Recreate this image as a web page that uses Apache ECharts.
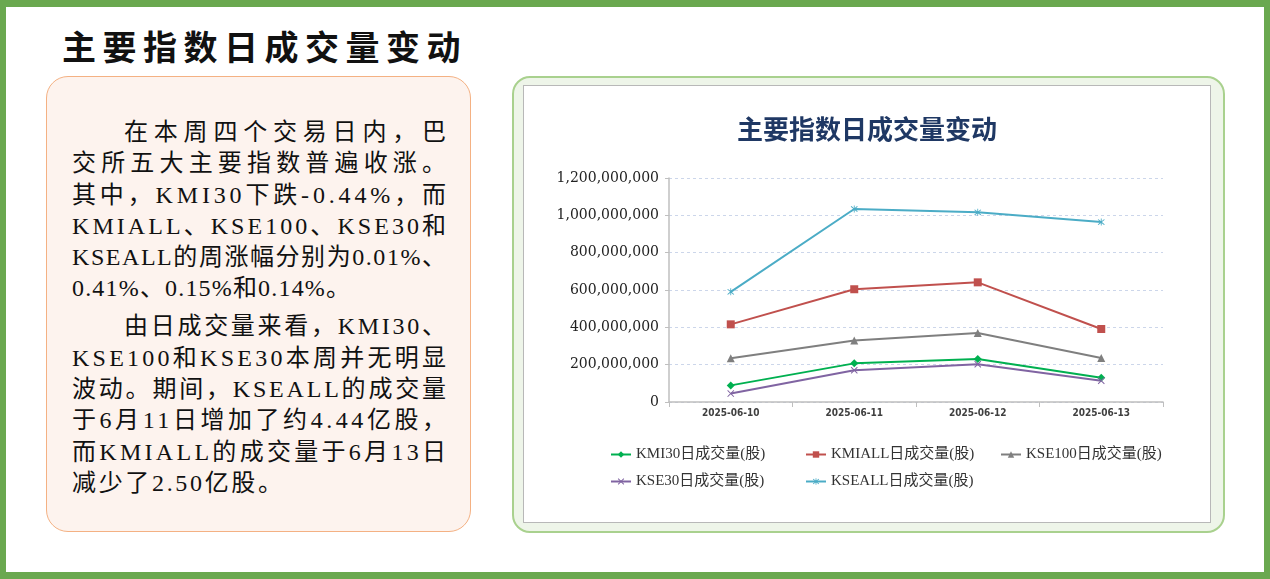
<!DOCTYPE html>
<html>
<head>
<meta charset="utf-8">
<script src="https://cdn.jsdelivr.net/npm/echarts@6/dist/echarts.min.js"></script>
<style>
    html, body {
        margin: 0;
        padding: 0;
        background: #fff;
    }
    #page {
        position: relative;
        width: 1270px;
        height: 579px;
        overflow: hidden;
        background: #fff;
    }
    #frame {
        position: absolute;
        left: 0;
        top: 0;
        width: 1270px;
        height: 579px;
        box-sizing: border-box;
        border: 6px solid #6aa84f;
        border-top-width: 7px;
        border-bottom-width: 7px;
    }
    #pageTitle {
        position: absolute;
        left: 62px;
        top: 27px;
        font-family: "Noto Sans CJK SC", sans-serif;
        font-weight: 700;
        font-size: 34px;
        line-height: 38px;
        letter-spacing: 6.5px;
        color: #111;
        white-space: nowrap;
    }
    #textBox {
        position: absolute;
        left: 46px;
        top: 76px;
        width: 425px;
        height: 456px;
        box-sizing: border-box;
        border: 1.5px solid #f4b183;
        border-radius: 22px;
        background: #fdf3ee;
    }
    #textLines {
        position: absolute;
        left: 72px;
        top: 117px;
        width: 380px;
        font-family: "Liberation Serif", "Noto Sans CJK SC", serif;
        font-size: 24px;
        color: #111;
    }
    .line {
        height: 31.3px;
        line-height: 31.3px;
        white-space: nowrap;
    }
    .gap {
        height: 6.7px;
    }
    #chartBox {
        position: absolute;
        left: 512px;
        top: 76px;
        width: 713px;
        height: 457px;
        box-sizing: border-box;
        border: 2px solid #a9d18e;
        border-radius: 18px;
        background: #eef5e9;
    }
    #volumeChart {
        position: absolute;
        left: 523px;
        top: 85px;
        width: 688px;
        height: 438px;
        box-sizing: border-box;
        border: 1.5px solid #b8b8b8;
        background: #fff;
    }
</style>
</head>
<body>
<div id="page">
    <div id="frame"></div>
    <div id="pageTitle">主要指数日成交量变动</div>
    <div id="textBox"></div>
    <div id="textLines"></div>
    <div id="chartBox"></div>
    <div id="volumeChart"></div>
</div>
<script>
// 日期
var dates = ['2025-06-10', '2025-06-11', '2025-06-12', '2025-06-13'];
// 各指数日成交量(股)
var kmi30Volume = [89000000, 207000000, 230000000, 130000000];
var kmiallVolume = [416000000, 604000000, 641000000, 391000000];
var kse100Volume = [234000000, 330000000, 370000000, 236000000];
var kse30Volume = [45000000, 170000000, 202000000, 114000000];
var kseallVolume = [590000000, 1034000000, 1016000000, 964000000];
var seriesNames = ['KMI30日成交量(股)', 'KMIALL日成交量(股)', 'KSE100日成交量(股)', 'KSE30日成交量(股)', 'KSEALL日成交量(股)'];

// 左侧说明文字, 每行一条
var para1 = ['在本周四个交易日内，巴', '交所五大主要指数普遍收涨。', '其中，KMI30下跌-0.44%，而', 'KMIALL、KSE100、KSE30和', 'KSEALL的周涨幅分别为0.01%、', '0.41%、0.15%和0.14%。'];
var para2 = ['由日成交量来看，KMI30、', 'KSE100和KSE30本周并无明显', '波动。期间，KSEALL的成交量', '于6月11日增加了约4.44亿股，', '而KMIALL的成交量于6月13日', '减少了2.50亿股。'];

$ = function (id) {
    return document.getElementById(id);
};

function addLines(box, lines, lastWidth) {
    lines.forEach(function (t, i) {
        var div = document.createElement('div');
        div.className = 'line';
        var span = document.createElement('span');
        span.textContent = t;
        div.appendChild(span);
        box.appendChild(div);
        var indent = i === 0 ? 52 : 0;
        span.style.marginLeft = indent + 'px';
        var target = i === lines.length - 1 ? lastWidth : 374 - indent;
        var n = Array.from(t).length;
        var w = span.getBoundingClientRect().width;
        span.style.letterSpacing = ((target - w) / (n - 1)) + 'px';
    });
}

var textLines = $('textLines');
addLines(textLines, para1, 278);
var gap = document.createElement('div');
gap.className = 'gap';
textLines.appendChild(gap);
addLines(textLines, para2, 210);

// 标记形状
var crossPath = 'path://M0,1L1,0L5,4L9,0L10,1L6,5L10,9L9,10L5,6L1,10L0,9L4,5Z';
var starPath = 'path://M0,1L1,0L5,4L9,0L10,1L6,5L10,9L9,10L5,6L1,10L0,9L4,5Z M4.4,-1L5.6,-1L5.6,11L4.4,11Z';

function makeSeries(name, data, color, symbol, size) {
    return {
        name: name,
        type: 'line',
        data: data,
        symbol: symbol,
        symbolSize: size,
        showAllSymbol: true,
        lineStyle: {
            color: color,
            width: 2
        },
        itemStyle: {
            color: color
        }
    };
}

// 图例分三列
function makeLegend(left, names) {
    return {
        orient: 'vertical',
        left: left,
        top: 356,
        itemWidth: 20,
        itemHeight: 8,
        itemGap: 12,
        textStyle: {
            fontFamily: "'Liberation Serif', 'Noto Sans CJK SC'",
            fontSize: 15,
            color: '#333'
        },
        data: names
    };
}

var myChart = echarts.init($('volumeChart'));
var option = {
    animation: false,
    title: {
        text: '主要指数日成交量变动',
        left: 'center',
        top: 25,
        textStyle: {
            fontFamily: 'Noto Sans CJK SC',
            fontSize: 26,
            fontWeight: 'bold',
            color: '#1f3864'
        }
    },
    legend: [
        makeLegend(81, [seriesNames[0], seriesNames[3]]),
        makeLegend(276, [seriesNames[1], seriesNames[4]]),
        makeLegend(471, [seriesNames[2]])
    ],
    grid: {
        left: 145,
        top: 92,
        width: 494,
        height: 224
    },
    xAxis: {
        type: 'category',
        data: dates,
        boundaryGap: true,
        axisLine: {
            lineStyle: {
                color: '#bfbfbf',
                width: 1.5
            }
        },
        axisTick: {
            show: true,
            length: 5,
            lineStyle: {
                color: '#bfbfbf'
            }
        },
        axisLabel: {
            margin: 6,
            fontFamily: 'DejaVu Sans Condensed',
            fontSize: 10,
            fontWeight: 'bold',
            color: '#404040'
        }
    },
    yAxis: {
        type: 'value',
        min: 0,
        max: 1200000000,
        interval: 200000000,
        axisLine: {
            show: true,
            lineStyle: {
                color: '#bfbfbf',
                width: 1.5
            }
        },
        axisTick: {
            show: true,
            length: 4,
            lineStyle: {
                color: '#bfbfbf'
            }
        },
        axisLabel: {
            margin: 10,
            fontFamily: 'DejaVu Serif',
            fontSize: 14,
            color: '#222',
            formatter: function (v) {
                return v.toLocaleString('en-US');
            }
        },
        splitLine: {
            show: true,
            lineStyle: {
                color: '#ccd6ea',
                type: [3, 3],
                width: 1
            }
        }
    },
    series: [
        makeSeries(seriesNames[0], kmi30Volume, '#00b050', 'diamond', 8),
        makeSeries(seriesNames[1], kmiallVolume, '#c0504d', 'rect', 8),
        makeSeries(seriesNames[2], kse100Volume, '#7f7f7f', 'triangle', 8),
        makeSeries(seriesNames[3], kse30Volume, '#8064a2', crossPath, 7),
        makeSeries(seriesNames[4], kseallVolume, '#4bacc6', starPath, 7)
    ]
};
myChart.setOption(option);
</script>
</body>
</html>
